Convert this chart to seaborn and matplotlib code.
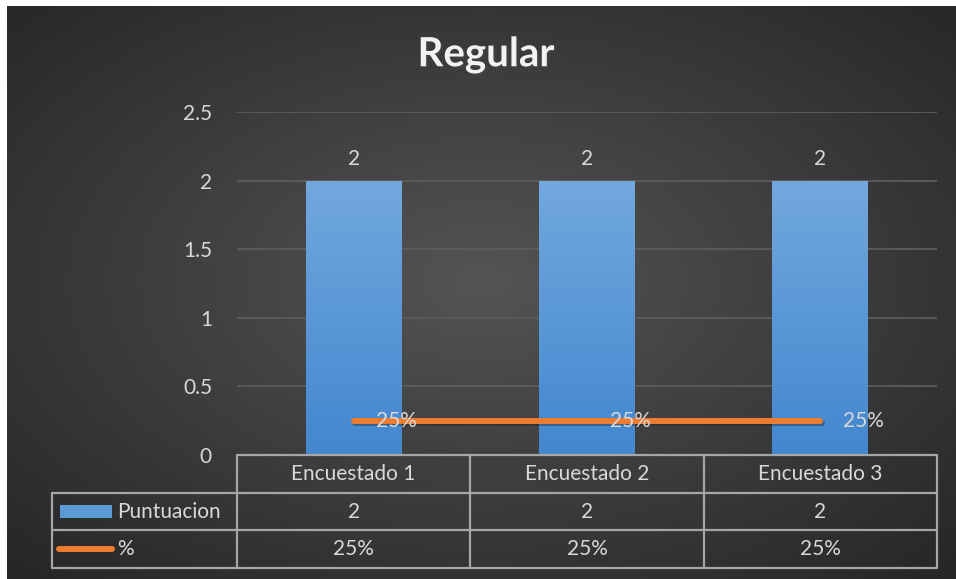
import numpy as np
import pandas as pd
import matplotlib
matplotlib.use("Agg")
import matplotlib.pyplot as plt
import matplotlib.patheffects as pe
from matplotlib.colors import LinearSegmentedColormap
from matplotlib.patches import Rectangle
import seaborn as sns

# datos del grafico
categorias = ["Encuestado 1", "Encuestado 2", "Encuestado 3"]
puntuacion = [2, 2, 2]
porcentaje = [0.25, 0.25, 0.25]
etiquetas_pct = ["25%", "25%", "25%"]
serie_barras = "Puntuacion"
serie_linea = "%"
titulo = "Regular"
yticks = [0, 0.5, 1, 1.5, 2, 2.5]
ytick_labels = ["0", "0.5", "1", "1.5", "2", "2.5"]

sns.set_theme(style="dark")
plt.rcParams["font.family"] = ["Lato", "DejaVu Sans"]

txt = "#d9d9d9"
borde = "#a6a6a6"
azul = "#5b9bd5"
naranja = "#ed7d31"
fs = 15

W, H = 956, 579
fig = plt.figure(figsize=(W / 100, H / 100), dpi=100)
fig.patch.set_facecolor("white")

# fondo con degradado radial
bg = fig.add_axes([7 / W, 0, (W - 7) / W, (H - 6) / H])
bg.set_axis_off()
yy, xx = np.mgrid[0:1:300j, 0:1:500j]
r = np.sqrt(((xx - 0.5) / 0.8) ** 2 + ((yy - 0.48) / 0.8) ** 2)
cmap_bg = LinearSegmentedColormap.from_list("bg", ["#545454", "#262626"])
bg.imshow(r, cmap=cmap_bg, aspect="auto", extent=[0, 1, 0, 1], vmin=0, vmax=0.9)

# area de trazado
ax = fig.add_axes([237 / W, (H - 455) / H, 700 / W, 343 / H])
ax.set_facecolor("none")

df = pd.DataFrame({"Encuestado": categorias, serie_barras: puntuacion, "pct": porcentaje})

sns.barplot(data=df, x="Encuestado", y=serie_barras, color=azul, width=0.41,
            saturation=1, ax=ax, zorder=2, edgecolor="none", linewidth=0)

# degradado en las barras
cmap_bar = LinearSegmentedColormap.from_list("bar", ["#72a8de", "#4387cf"])
grad = np.linspace(0, 1, 256).reshape(-1, 1)
for p in ax.patches:
    x0, y0, w, h = p.get_x(), p.get_y(), p.get_width(), p.get_height()
    im = ax.imshow(grad, extent=[x0, x0 + w, y0, y0 + h], cmap=cmap_bar,
                   aspect="auto", origin="upper", zorder=2.1)
    im.set_clip_path(p)

sns.lineplot(data=df, x="Encuestado", y="pct", color=naranja, lw=4.3, sort=False,
             ax=ax, zorder=3, solid_capstyle="round",
             path_effects=[pe.SimpleLineShadow(offset=(1, -2), alpha=0.35),
                           pe.Normal()])

ax.set_xlim(-0.5, len(categorias) - 0.5)
ax.set_ylim(0, 2.5)
ax.set_yticks(yticks)
ax.set_yticklabels(ytick_labels)
ax.set_xticks([])
ax.set_xlabel("")
ax.set_ylabel("")
ax.tick_params(axis="y", length=0, pad=18, labelsize=fs, colors=txt)
ax.yaxis.grid(True, color="#5c5c5c", lw=1.3)
ax.set_axisbelow(True)
for s in ax.spines.values():
    s.set_visible(False)

# etiquetas de datos
ax.bar_label(ax.containers[0], labels=[str(v) for v in puntuacion],
             padding=8, color=txt, fontsize=fs)
for i, (v, lab) in enumerate(zip(porcentaje, etiquetas_pct)):
    ax.annotate(lab, (i, v), xytext=(31, 0), textcoords="offset points",
                ha="center", va="center", color=txt, fontsize=fs, zorder=4)

# tabla de datos
tr = ax.get_xaxis_transform()
rh = 37.7 / 343
n = len(categorias)
px = 700 / n
x_left = (52 - 237) / px - 0.5
kw = dict(color=borde, lw=1.6, transform=tr, clip_on=False, zorder=5)
ax.plot([-0.5, n - 0.5], [0, 0], **kw)
for k in (1, 2, 3):
    ax.plot([x_left, n - 0.5], [-k * rh, -k * rh], **kw)
for xv in np.arange(n + 1) - 0.5:
    ax.plot([xv, xv], [0, -3 * rh], **kw)
ax.plot([x_left, x_left], [-rh, -3 * rh], **kw)

for i, c in enumerate(categorias):
    ax.text(i, -0.5 * rh, c, transform=tr, ha="center", va="center", color=txt, fontsize=fs)
    ax.text(i, -1.5 * rh, str(puntuacion[i]), transform=tr, ha="center", va="center",
            color=txt, fontsize=fs)
    ax.text(i, -2.5 * rh, etiquetas_pct[i], transform=tr, ha="center", va="center",
            color=txt, fontsize=fs)

sw0 = (60 - 237) / px - 0.5
sw1 = (112 - 237) / px - 0.5
ax.add_patch(Rectangle((sw0, -1.5 * rh - 0.019), sw1 - sw0, 0.038, transform=tr,
                       facecolor=azul, edgecolor="none", clip_on=False))
ax.plot([(59 - 237) / px - 0.5, (112 - 237) / px - 0.5], [-2.5 * rh, -2.5 * rh],
        color=naranja, lw=4.3, solid_capstyle="round", transform=tr, clip_on=False)
xt = (117 - 237) / px - 0.5
ax.text(xt, -1.5 * rh, serie_barras, transform=tr, ha="left", va="center", color=txt, fontsize=fs)
ax.text(xt, -2.5 * rh, serie_linea, transform=tr, ha="left", va="center", color=txt, fontsize=fs)

# titulo
fig.text(486 / W, 1 - 55 / H, titulo, ha="center", va="center", fontsize=29,
         fontweight="bold", color="#f2f2f2",
         path_effects=[pe.withSimplePatchShadow(offset=(1.5, -1.5), alpha=0.5)])

fig.savefig("out.png", dpi=100)
